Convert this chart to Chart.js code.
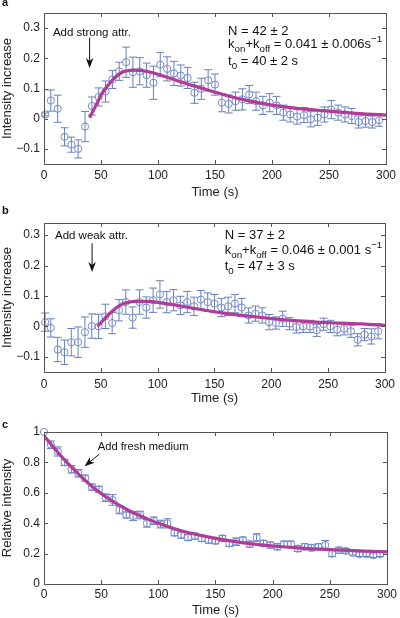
<!DOCTYPE html>
<html>
<head>
<meta charset="utf-8">
<script src="https://cdn.jsdelivr.net/npm/chart.js@4"></script>
<style>
  body { margin: 0; background: #fff; width: 400px; height: 618px; position: relative; overflow: hidden; font-family: "Liberation Sans", Arial, sans-serif; }
  canvas { position: absolute; left: 0; }
  .lbl { position: absolute; left: 2px; font-weight: bold; font-size: 11px; color: #111; }
</style>
</head>
<body>
<canvas id="ca" width="400" height="200" style="top:0"></canvas>
<canvas id="cb" width="400" height="206" style="top:200px"></canvas>
<canvas id="cc" width="400" height="213" style="top:405px"></canvas>
<div class="lbl" style="top:-4px">a</div>
<div class="lbl" style="top:204px">b</div>
<div class="lbl" style="top:418px">c</div>
<script>
// ---- data ----
const xTicks = [0, 50, 100, 150, 200, 250, 300];
const abYTicks = [-0.1, 0, 0.1, 0.2, 0.3];
const cYTicks = [0, 0.2, 0.4, 0.6, 0.8, 1];

// panel a: strong attractant
const aTime = [1, 6, 12, 18, 24, 30, 36, 42, 48, 54, 60, 66, 72, 78, 84, 90, 96, 102, 108, 114,
  120, 126, 132, 138, 144, 150, 156, 162, 168, 174, 180, 186, 192, 198, 204, 210, 216, 222, 228, 234,
  240, 246, 252, 258, 264, 270, 276, 282, 288, 294];
const aValue = [0.014, 0.06, 0.033, -0.06, -0.086, -0.1, -0.026, 0.042, 0.072, 0.09,
  0.13, 0.157, 0.187, 0.154, 0.157, 0.144, 0.119, 0.179, 0.165, 0.15,
  0.143, 0.135, 0.086, 0.099, 0.127, 0.113, 0.053, 0.049, 0.058, 0.064,
  0.08, 0.058, 0.044, 0.053, 0.044, 0.02, 0.014, 0.007, 0.012, -0.002,
  0.003, 0.014, 0.03, 0.02, 0.014, 0.009, -0.011, -0.008, -0.011, -0.005];
const aError = [0.005, 0.035, 0.045, 0.03, 0.025, 0.03, 0.05, 0.03, 0.03, 0.035,
  0.03, 0.03, 0.05, 0.05, 0.045, 0.04, 0.055, 0.04, 0.04, 0.04,
  0.035, 0.035, 0.035, 0.035, 0.035, 0.035, 0.03, 0.03, 0.03, 0.035,
  0.03, 0.03, 0.03, 0.03, 0.03, 0.025, 0.025, 0.025, 0.025, 0.025,
  0.025, 0.025, 0.03, 0.025, 0.025, 0.025, 0.02, 0.02, 0.02, 0.02];
const aFitTime = [40, 45, 50, 55, 60, 65, 70, 80, 90, 100, 120, 140, 160, 180, 200, 220, 240, 260, 280, 300];
const aFitValue = [0.003, 0.04, 0.078, 0.105, 0.128, 0.145, 0.156, 0.161, 0.157, 0.147,
  0.122, 0.099, 0.077, 0.059, 0.045, 0.035, 0.028, 0.022, 0.016, 0.012];

// panel b: weak attractant
const bTime = aTime;
const bValue = [0.014, -0.005, -0.076, -0.085, -0.052, -0.052, -0.019, 0.001, 0, 0.033,
  0.011, 0.053, 0.08, 0.029, 0.08, 0.062, 0.086, 0.105, 0.08, 0.086,
  0.069, 0.08, 0.066, 0.088, 0.08, 0.075, 0.062, 0.066, 0.075, 0.062,
  0.036, 0.042, 0.036, 0.014, 0.011, 0.025, 0.009, -0.002, 0, 0,
  -0.013, 0.007, 0, -0.011, -0.008, -0.016, -0.044, -0.027, -0.033, -0.016];
const bError = [0.03, 0.03, 0.04, 0.04, 0.045, 0.05, 0.05, 0.04, 0.04, 0.04,
  0.035, 0.035, 0.04, 0.035, 0.04, 0.035, 0.04, 0.045, 0.035, 0.035,
  0.03, 0.035, 0.03, 0.03, 0.03, 0.03, 0.03, 0.03, 0.03, 0.03,
  0.025, 0.025, 0.025, 0.025, 0.02, 0.025, 0.02, 0.02, 0.02, 0.02,
  0.02, 0.02, 0.02, 0.02, 0.02, 0.02, 0.02, 0.02, 0.025, 0.025];
const bFitTime = [47, 50, 55, 60, 65, 70, 75, 80, 90, 100, 120, 140, 160, 180, 200, 220, 240, 260, 280, 300];
const bFitValue = [0.0, 0.012, 0.032, 0.05, 0.065, 0.075, 0.08, 0.082, 0.082, 0.079,
  0.067, 0.054, 0.043, 0.034, 0.026, 0.019, 0.014, 0.011, 0.008, 0.003];

// panel c: fresh medium
const cTime = [0, 6, 12, 18, 24, 30, 36, 42, 48, 54, 60, 66, 72, 78, 84, 90, 96, 102, 108, 114,
  120, 126, 132, 138, 144, 150, 156, 162, 168, 174, 180, 186, 192, 198, 204, 210, 216, 222, 228, 234,
  240, 246, 252, 258, 264, 270, 276, 282, 288, 294];
const cValue = [1.0, 0.916, 0.872, 0.80, 0.755, 0.729, 0.696, 0.637, 0.623, 0.568,
  0.553, 0.487, 0.454, 0.447, 0.454, 0.399, 0.416, 0.394, 0.399, 0.337,
  0.322, 0.306, 0.315, 0.30, 0.289, 0.284, 0.30, 0.267, 0.278, 0.289,
  0.262, 0.306, 0.267, 0.256, 0.245, 0.262, 0.262, 0.233, 0.245, 0.238,
  0.245, 0.256, 0.20, 0.222, 0.218, 0.205, 0.196, 0.196, 0.189, 0.196];
const cError = [0, 0.025, 0.03, 0.02, 0.025, 0.025, 0.02, 0.02, 0.02, 0.025,
  0.035, 0.025, 0.02, 0.03, 0.025, 0.025, 0.025, 0.025, 0.03, 0.02,
  0.02, 0.02, 0.02, 0.02, 0.02, 0.02, 0.02, 0.02, 0.025, 0.02,
  0.02, 0.025, 0.02, 0.02, 0.02, 0.02, 0.02, 0.02, 0.02, 0.02,
  0.02, 0.03, 0.02, 0.02, 0.015, 0.015, 0.015, 0.015, 0.015, 0.015];
const cFitTime = [0, 10, 20, 30, 40, 50, 60, 75, 90, 100, 125, 150, 175, 200, 225, 250, 275, 300];
const cFitValue = [0.975, 0.885, 0.80, 0.725, 0.655, 0.595, 0.545, 0.48, 0.43, 0.40,
  0.34, 0.30, 0.27, 0.25, 0.236, 0.226, 0.218, 0.212];

// ---- styling ----
const FONT = '"Liberation Sans", Arial, sans-serif';
const MARK = '#7489d2';
const BAR = '#6680bd';
const FIT = '#b13c97';
const AXIS = '#555';

function pts(xs, ys) { return xs.map((x, i) => ({ x: x, y: ys[i] })); }

// draws a line of text with sub/superscript pieces
function richText(ctx, x, y, parts, size) {
  ctx.textBaseline = 'middle';
  ctx.textAlign = 'left';
  parts.forEach(p => {
    const [txt, mode] = p;
    const s = mode ? size * 0.75 : size;
    const dy = mode === 'sub' ? size * 0.42 : mode === 'sup' ? -size * 0.38 : 0;
    ctx.font = s + 'px ' + FONT;
    ctx.fillText(txt, x, y + dy);
    x += ctx.measureText(txt).width;
  });
}

function arrow(ctx, x1, y1, x2, y2) {
  const ang = Math.atan2(y2 - y1, x2 - x1);
  const len = 10, half = 3.8, notch = 3;
  ctx.beginPath();
  ctx.moveTo(x1, y1);
  ctx.lineTo(x2 - Math.cos(ang) * (len - notch), y2 - Math.sin(ang) * (len - notch));
  ctx.stroke();
  ctx.beginPath();
  ctx.moveTo(x2, y2);
  ctx.lineTo(x2 - Math.cos(ang) * len - Math.sin(ang) * half, y2 - Math.sin(ang) * len + Math.cos(ang) * half);
  ctx.lineTo(x2 - Math.cos(ang) * (len - notch), y2 - Math.sin(ang) * (len - notch));
  ctx.lineTo(x2 - Math.cos(ang) * len + Math.sin(ang) * half, y2 - Math.sin(ang) * len - Math.cos(ang) * half);
  ctx.closePath();
  ctx.fill();
}

// error bars under the markers
const errorBars = {
  id: 'errorBars',
  beforeDatasetsDraw(chart) {
    const { ctx, scales: { x, y } } = chart;
    const set = chart.data.datasets[1];
    const err = set.errors || [];
    ctx.save();
    ctx.strokeStyle = BAR;
    ctx.lineWidth = 1;
    set.data.forEach((p, i) => {
      const e = err[i];
      if (!e) return;
      const px = x.getPixelForValue(p.x);
      const yt = y.getPixelForValue(p.y + e);
      const yb = y.getPixelForValue(p.y - e);
      ctx.beginPath();
      ctx.moveTo(px, yt); ctx.lineTo(px, yb);
      ctx.moveTo(px - 4, yt); ctx.lineTo(px + 4, yt);
      ctx.moveTo(px - 4, yb); ctx.lineTo(px + 4, yb);
      ctx.stroke();
    });
    ctx.restore();
  }
};

// matlab style box with inward ticks
const frame = {
  id: 'frame',
  afterDraw(chart) {
    const { ctx, chartArea: a, scales: { x, y } } = chart;
    ctx.save();
    ctx.strokeStyle = AXIS;
    ctx.lineWidth = 1;
    ctx.strokeRect(Math.round(a.left) + 0.5, Math.round(a.top) + 0.5, Math.round(a.right - a.left), Math.round(a.bottom - a.top));
    ctx.beginPath();
    x.ticks.forEach(t => {
      const px = Math.round(x.getPixelForValue(t.value)) + 0.5;
      ctx.moveTo(px, a.bottom); ctx.lineTo(px, a.bottom - 4);
      ctx.moveTo(px, a.top); ctx.lineTo(px, a.top + 4);
    });
    y.ticks.forEach(t => {
      const py = Math.round(y.getPixelForValue(t.value)) + 0.5;
      ctx.moveTo(a.left, py); ctx.lineTo(a.left + 4, py);
      ctx.moveTo(a.right, py); ctx.lineTo(a.right - 4, py);
    });
    ctx.stroke();
    ctx.restore();
  }
};

function fmt(v) {
  const s = String(Number(v.toFixed(2)));
  return s.replace('-', '\u2212');
}

function panel(id, o) {
  const canvas = document.getElementById(id);
  return new Chart(canvas, {
    type: 'scatter',
    data: {
      datasets: [
        {
          data: pts(o.fitTime, o.fitValue),
          showLine: true,
          borderColor: FIT,
          borderWidth: 3.2,
          pointRadius: 0,
          cubicInterpolationMode: 'monotone',
          order: 0
        },
        {
          data: pts(o.time, o.value),
          errors: o.error,
          showLine: false,
          pointStyle: 'circle',
          pointRadius: 3.6,
          pointBorderWidth: 1,
          pointBorderColor: MARK,
          pointBackgroundColor: 'rgba(0,0,0,0)',
          clip: false,
          order: 1
        }
      ]
    },
    options: {
      responsive: false,
      animation: false,
      events: [],
      layout: { padding: { top: o.padTop, right: 11, left: 0, bottom: 0 } },
      plugins: { legend: { display: false }, tooltip: { enabled: false } },
      scales: {
        x: {
          type: 'linear',
          min: 0, max: 300,
          afterBuildTicks: s => { s.ticks = xTicks.map(v => ({ value: v })); },
          afterFit: s => { s.height = o.xHeight; },
          grid: { display: false, drawTicks: false },
          border: { display: false },
          ticks: { color: '#222', font: { family: FONT, size: 12 }, padding: o.xTickPad, maxRotation: 0 },
          title: { display: true, text: 'Time (s)', color: '#222', font: { family: FONT, size: 13 }, padding: { top: 0, bottom: 0 } }
        },
        y: {
          type: 'linear',
          min: o.yMin, max: o.yMax,
          afterBuildTicks: s => { s.ticks = o.yTicks.map(v => ({ value: v })); },
          afterFit: s => { s.width = 44; },
          grid: { display: false, drawTicks: false },
          border: { display: false },
          ticks: { color: '#222', font: { family: FONT, size: 12 }, padding: 4, callback: v => fmt(v) },
          title: { display: true, text: o.yTitle, color: '#222', font: { family: FONT, size: 13 }, padding: { top: 0, bottom: 0 } }
        }
      }
    },
    plugins: [errorBars, frame, {
      id: 'notes',
      afterDraw(c) {
        const { ctx, scales: { x, y } } = c;
        ctx.save();
        ctx.fillStyle = '#111';
        ctx.strokeStyle = '#111';
        ctx.lineWidth = 1;
        o.notes(ctx, v => x.getPixelForValue(v), v => y.getPixelForValue(v));
        ctx.restore();
      }
    }]
  });
}

panel('ca', {
  time: aTime, value: aValue, error: aError, fitTime: aFitTime, fitValue: aFitValue,
  yMin: -0.15, yMax: 0.35, yTicks: abYTicks, yTitle: 'Intensity increase',
  padTop: 13, xHeight: 36, xTickPad: 4,
  notes(ctx, X, Y) {
    ctx.font = '11.5px ' + FONT;
    ctx.textAlign = 'center'; ctx.textBaseline = 'middle';
    ctx.fillText('Add strong attr.', X(42), Y(0.284));
    arrow(ctx, X(40), Y(0.268), X(40), Y(0.168));
    const x0 = X(161.5);
    richText(ctx, x0, Y(0.29), [['N = 42 \u00b1 2']], 13);
    richText(ctx, x0, Y(0.247), [['k'], ['on', 'sub'], ['+k'], ['off', 'sub'], [' = 0.041 \u00b1 0.006s'], ['\u22121', 'sup']], 13);
    richText(ctx, x0, Y(0.19), [['t'], ['0', 'sub'], [' = 40 \u00b1 2 s']], 13);
  }
});

panel('cb', {
  time: bTime, value: bValue, error: bError, fitTime: bFitTime, fitValue: bFitValue,
  yMin: -0.15, yMax: 0.34, yTicks: abYTicks, yTitle: 'Intensity increase',
  padTop: 23, xHeight: 34, xTickPad: 5,
  notes(ctx, X, Y) {
    ctx.font = '11.5px ' + FONT;
    ctx.textAlign = 'center'; ctx.textBaseline = 'middle';
    ctx.fillText('Add weak attr.', X(41.7), Y(0.297));
    arrow(ctx, X(42.3), Y(0.273), X(42.3), Y(0.179));
    const x0 = X(159);
    richText(ctx, x0, Y(0.30), [['N = 37 \u00b1 2']], 13);
    richText(ctx, x0, Y(0.251), [['k'], ['on', 'sub'], ['+k'], ['off', 'sub'], [' = 0.046 \u00b1 0.001 s'], ['\u22121', 'sup']], 13);
    richText(ctx, x0, Y(0.198), [['t'], ['0', 'sub'], [' = 47 \u00b1 3 s']], 13);
  }
});

panel('cc', {
  time: cTime, value: cValue, error: cError, fitTime: cFitTime, fitValue: cFitValue,
  yMin: 0, yMax: 1, yTicks: cYTicks, yTitle: 'Relative intensity',
  padTop: 27, xHeight: 34, xTickPad: 3,
  notes(ctx, X, Y) {
    ctx.font = '11.2px ' + FONT;
    ctx.textAlign = 'left'; ctx.textBaseline = 'middle';
    ctx.fillText('Add fresh medium', X(47), Y(0.905));
    arrow(ctx, X(48.5), Y(0.855), X(35.5), Y(0.775));
  }
});
</script>
</body>
</html>
